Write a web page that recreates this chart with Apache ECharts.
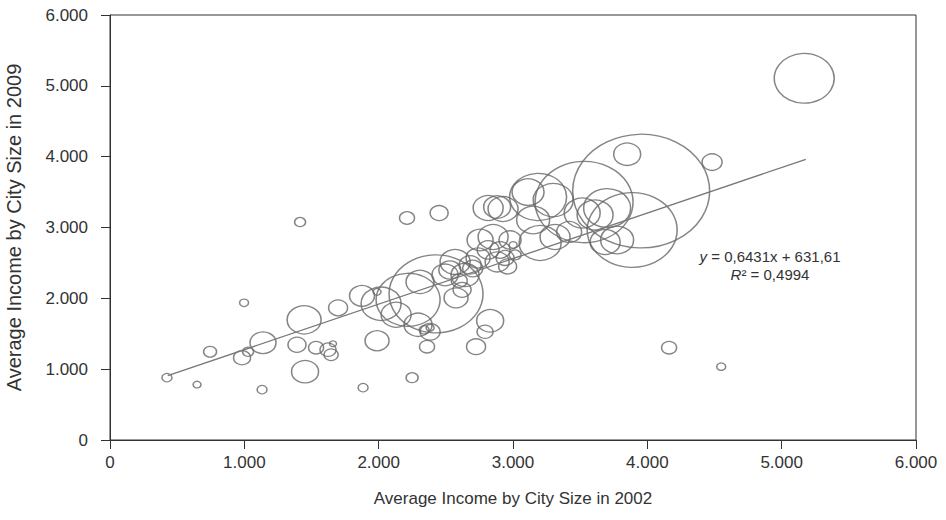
<!DOCTYPE html>
<html>
<head>
<meta charset="utf-8">
<script src="https://cdn.jsdelivr.net/npm/echarts@6/dist/echarts.min.js"></script>
<style>
  html, body { margin: 0; padding: 0; background: #fff; }
  #chart { width: 946px; height: 520px; }
</style>
</head>
<body>
<div id="chart"></div>
<script>
// Average income per city: 2002 (x), 2009 (y) and relative city size (bubble)
const income2002 = [
  424, 648, 745, 998, 983, 1028, 1132, 1139, 1392, 1445,
  1452, 1415, 1534, 1623, 1646, 1660, 1698, 1876, 1884, 1988,
  1988, 2211, 2249, 2450, 2018, 2219, 2427, 2130, 2293, 2383,
  2360, 2383, 2338, 2725, 2792, 2830, 2308, 2494, 2569, 2643,
  2681, 2621, 2740, 2815, 2882, 2904, 2941, 2755, 2852, 2978,
  3016, 3001, 2815, 2926, 2882, 3150, 3187, 3112, 3299, 3202,
  3313, 3418, 3529, 3515, 3611, 3701, 3686, 3775, 3887, 3954,
  3850, 4482, 4162, 4550, 5168, 2576, 2530, 2700, 2600, 2960
];
const income2009 = [
  880, 782, 1246, 1937, 1162, 1246, 711, 1373, 1345, 1697,
  965, 3077, 1303, 1275, 1204, 1359, 1866, 2035, 739, 1401,
  2092, 3134, 880, 3204, 1923, 1979, 2063, 1768, 1627, 1528,
  1317, 1585, 1556, 1317, 1528, 1683, 2232, 2331, 2514, 2331,
  2472, 2120, 2570, 2683, 2514, 2683, 2570, 2824, 2866, 2824,
  2613, 2754, 3275, 3261, 3289, 3106, 3430, 3500, 3387, 2782,
  2866, 2937, 3359, 3204, 3176, 3275, 2796, 2824, 2965, 3514,
  4035, 3923, 1303, 1035, 5106, 2007, 2400, 2420, 2250, 2450
];
const citySize = [
  10, 8, 13, 9, 17, 11, 10, 26, 18, 34,
  27, 11, 15, 16, 14, 7, 19, 25, 10, 24,
  8, 15, 12, 18, 40, 64, 94, 30, 28, 20,
  15, 8, 10, 19, 16, 27, 28, 26, 30, 28,
  22, 18, 24, 22, 24, 20, 18, 26, 30, 22,
  12, 8, 30, 30, 27, 33, 57, 32, 40, 42,
  30, 25, 98, 36, 36, 47, 30, 33, 90, 137,
  27, 20, 15, 9, 60, 24, 22, 20, 16, 18
];

// Linear trend (least squares) as printed on the chart
const trendSlope = 0.6431;
const trendIntercept = 631.61;
const trendRange = [430, 5180];

const axisTicks = { min: 0, max: 6000, interval: 1000 };

const bubbles = income2002.map((x, i) => [x, income2009[i], citySize[i]]);
const trendLine = trendRange.map(x => [x, trendSlope * x + trendIntercept]);

const fmt = v => String(v).replace(/\B(?=(\d{3})+(?!\d))/g, '.');
const fontFamily = '"Liberation Sans", Arial, Helvetica, sans-serif';
const ink = '#333';

const chart = echarts.init(document.getElementById('chart'), null, { renderer: 'svg' });
chart.setOption({
  animation: false,
  textStyle: { fontFamily: fontFamily, color: ink },
  grid: {
    left: 110, right: 30, top: 15, bottom: 80,
    outerBoundsMode: 'none',
    show: true, borderColor: ink, borderWidth: 1, backgroundColor: 'transparent'
  },
  xAxis: {
    type: 'value',
    min: axisTicks.min, max: axisTicks.max, interval: axisTicks.interval,
    name: 'Average Income by City Size in 2002',
    nameLocation: 'middle', nameGap: 50,
    nameTextStyle: { fontSize: 17, color: ink, fontFamily: fontFamily },
    axisLine: { lineStyle: { color: ink, width: 1 } },
    axisTick: { show: true, length: 9, lineStyle: { color: ink } },
    axisLabel: { formatter: fmt, fontSize: 17, color: ink, margin: 14, fontFamily: fontFamily },
    splitLine: { show: false }
  },
  yAxis: {
    type: 'value',
    min: axisTicks.min, max: axisTicks.max, interval: axisTicks.interval,
    name: 'Average Income by City Size in 2009',
    nameLocation: 'middle', nameGap: 86,
    nameTextStyle: { fontSize: 20, color: ink, fontFamily: fontFamily },
    axisLine: { lineStyle: { color: ink, width: 1 } },
    axisTick: { show: true, length: 9, lineStyle: { color: ink } },
    axisLabel: { formatter: fmt, fontSize: 17, color: ink, margin: 22, fontFamily: fontFamily },
    splitLine: { show: false }
  },
  series: [
    {
      type: 'scatter',
      data: bubbles,
      symbol: 'circle',
      symbolSize: v => [v[2], v[2] * 0.83],
      itemStyle: { color: 'rgba(0,0,0,0)', borderColor: '#666', borderWidth: 1.4 },
      emphasis: { disabled: true },
      silent: true
    },
    {
      type: 'line',
      data: trendLine,
      symbol: 'none',
      lineStyle: { color: '#777', width: 1.3 },
      silent: true,
      z: 3
    }
  ],
  graphic: [
    {
      type: 'text',
      x: 770, y: 247,
      style: {
        text: '{i|y} = 0,6431x + 631,61\n{i|R}² = 0,4994',
        align: 'center',
        fontSize: 15, lineHeight: 18,
        fontFamily: fontFamily, fill: ink,
        rich: { i: { fontStyle: 'italic', fontSize: 15, fontFamily: fontFamily } }
      }
    }
  ]
});
</script>
</body>
</html>
